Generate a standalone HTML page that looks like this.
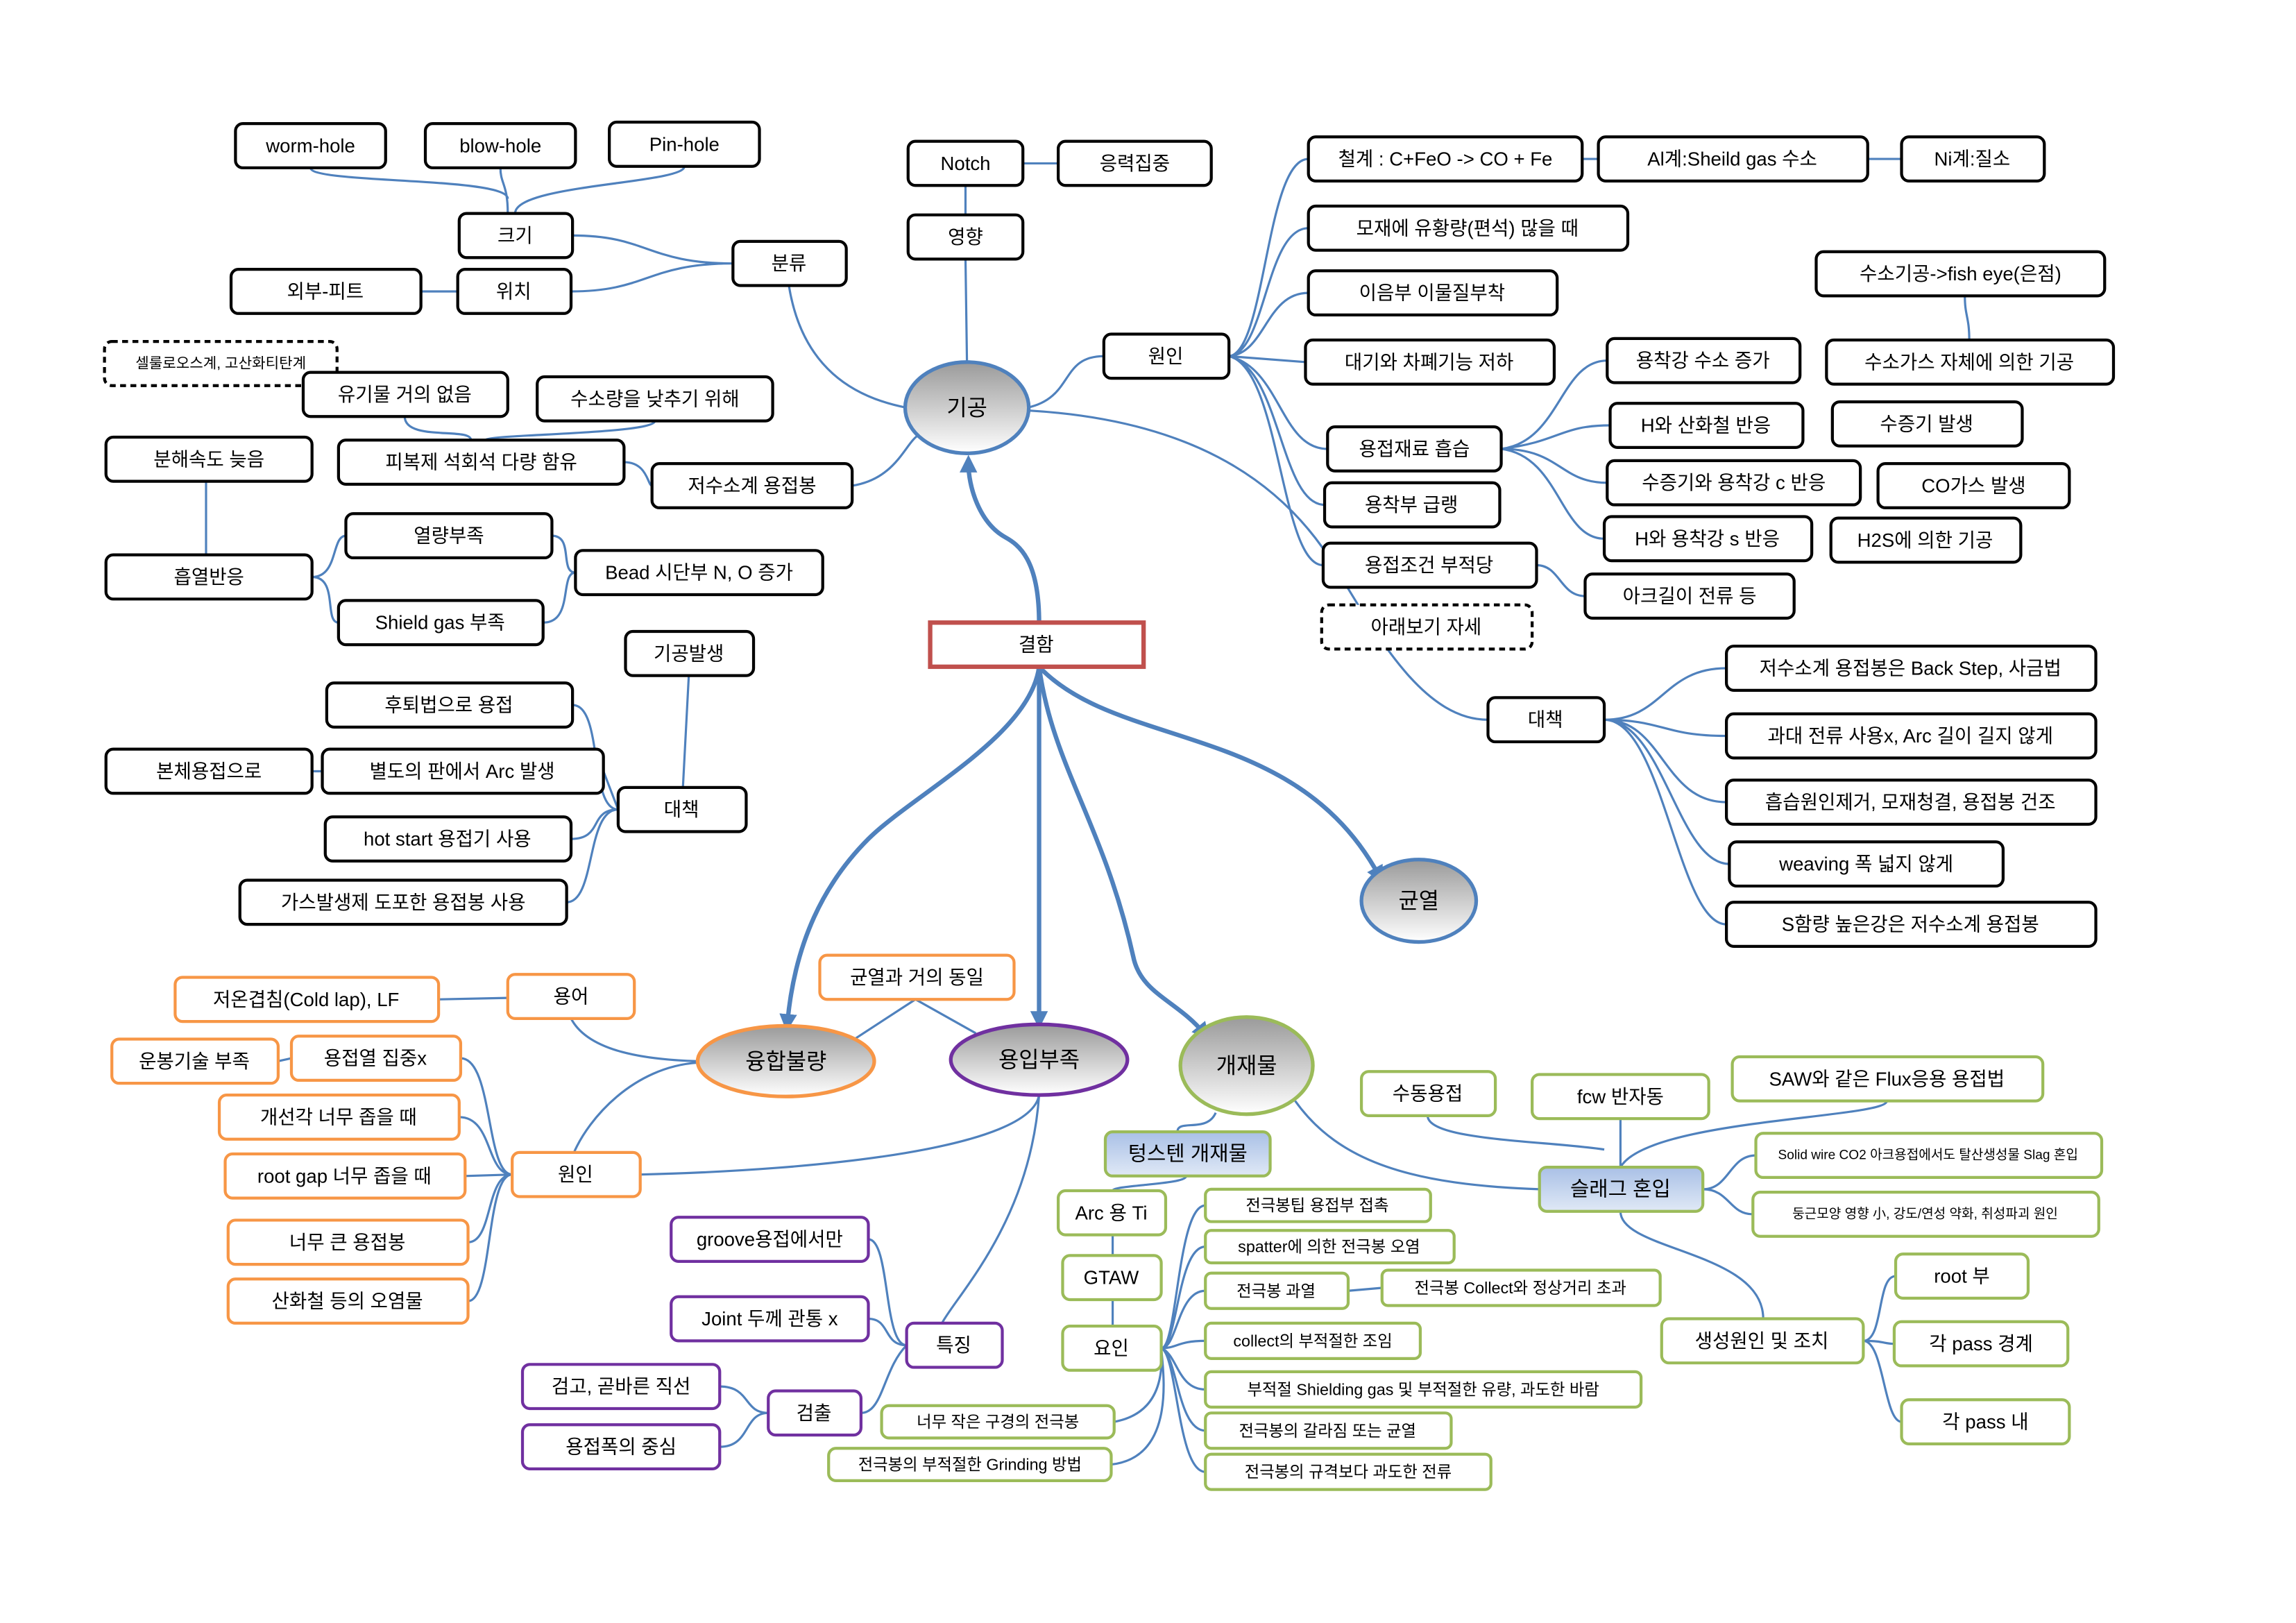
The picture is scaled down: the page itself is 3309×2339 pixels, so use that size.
<!DOCTYPE html>
<html><head><meta charset="utf-8"><style>
html,body{margin:0;padding:0;background:#fff}
svg{display:block}
text{font-family:"Liberation Sans","Noto Sans CJK KR",sans-serif;font-size:13px;fill:#000;text-anchor:middle;dominant-baseline:central}
.k{fill:#fff;stroke:#000;stroke-width:2}
.o{fill:#fff;stroke:#f79646;stroke-width:2}
.p{fill:#fff;stroke:#7030a0;stroke-width:2}
.g{fill:#fff;stroke:#9bbb59;stroke-width:2}
.l{fill:none;stroke:#4f81bd;stroke-width:1.5}
.m{fill:none;stroke:#4f81bd;stroke-width:3}
.d{stroke-dasharray:4 3}
</style></head><body>
<svg width="3309" height="2339" viewBox="0 0 1560 1102.7" xmlns="http://www.w3.org/2000/svg">
<defs>
<linearGradient id="gr" x1="0" y1="0" x2="0" y2="1"><stop offset="0" stop-color="#9a9a9a"/><stop offset="1" stop-color="#fff"/></linearGradient>
<linearGradient id="bl" x1="0" y1="0" x2="0" y2="1"><stop offset="0" stop-color="#a9c0e6"/><stop offset="1" stop-color="#e0e9f6"/></linearGradient>
<marker id="ar" markerWidth="4" markerHeight="4" refX="2" refY="2" orient="auto"><path d="M0,0 L4,2 L0,4 z" fill="#4f81bd"/></marker>
</defs>

<g class="l">
<path d="M211,114 C211,125 345,120 345,135 M340,114 C340,125 345,125 345,145 M465,113 C465,125 350,125 350,145"/>
<path d="M389,160 C440,160 440,179 498,179 M388,198 C440,198 440,179 498,179 M286,198 L311,198"/>
<path d="M536,194 C545,250 580,270 616,277"/>
<path d="M275,283 C275,300 320,290 320,299 M445,286 C445,295 330,295 330,299 M424,314 C440,314 440,330 443,330"/>
<path d="M579,330 C610,325 615,300 625,295"/>
<path d="M140,327 L140,377 M212,392 C230,392 225,364 235,364 M212,392 C230,392 220,423 230,423"/>
<path d="M375,364 C390,364 380,389 391,389 M369,423 C390,423 380,389 391,389"/>
<path d="M468,459 L464,535 M389,479 C410,479 400,550 420,550 M410,524 L420,550 M212,524 L219,524 M388,570 C410,570 400,550 420,550 M385,613 C405,613 398,550 420,550"/>
<path d="M656,126 L656,146 M656,176 L657,246 M695,111 L719,111"/>
<path d="M698,277 C730,270 720,242 750,242"/>
<path d="M700,279 C800,285 870,320 910,390 C940,440 970,489 1011,489"/>
<path d="M835,242 C860,240 860,108 889,108 M835,242 C860,240 860,155 889,155 M835,242 C860,240 860,199 889,199 M835,242 L887,246 M835,242 C870,250 870,305 902,305 M835,242 C870,250 870,343 900,343 M835,242 C870,250 870,384 899,384"/>
<path d="M1075,108 L1086,108 M1269,108 L1292,108 M1335,201 C1335,215 1338,215 1338,231"/>
<path d="M1020,305 C1060,300 1060,245 1092,245 M1020,305 C1060,300 1060,289 1094,289 M1020,305 C1060,305 1060,328 1092,328 M1020,305 C1060,310 1060,366 1090,366 M1044,384 C1060,384 1060,405 1077,405"/>
<path d="M1090,489 C1130,489 1130,454 1173,454 M1090,489 C1130,489 1130,500 1173,500 M1090,489 C1130,489 1130,545 1173,545 M1090,489 C1130,489 1140,587 1175,587 M1090,489 C1130,489 1140,628 1173,628"/>
<path d="M298,679 L345,678 M388,692 C400,715 440,720 474,721 M189,721 L198,719"/>
<path d="M579,707 L622,679 L663,702"/>
<path d="M313,719 C335,719 330,798 348,798 M312,759 C335,759 330,798 348,798 M316,799 L348,798 M318,844 C335,844 330,798 348,798 M318,884 C335,884 330,798 348,798"/>
<path d="M390,783 C400,760 430,725 474,722 M435,798 C560,795 700,780 706,744"/>
<path d="M590,842 C605,842 600,914 616,914 M590,896 C605,896 600,914 616,914 M489,942 C510,942 505,960 522,960 M489,983 C510,983 505,960 522,960 M585,960 C600,960 600,930 616,914"/>
<path d="M706,744 C700,830 650,880 640,899"/>
<path d="M826,756 C820,770 800,760 800,769 M806,799 C806,805 756,805 756,809 M756,839 L756,853 M756,883 L756,901"/>
<path d="M789,916 C800,916 800,819 819,819 M789,916 C800,916 800,847 819,847 M789,916 C800,916 800,877 819,877 M789,916 C800,916 800,911 819,911 M789,916 C800,920 800,944 819,944 M789,916 C800,920 800,972 819,972 M789,916 C800,920 800,1000 819,1000 M757,966 C790,960 790,930 789,916 M755,995 C800,990 790,930 789,916 M916,877 L939,875"/>
<path d="M880,748 C910,790 960,805 1046,808 M970,758 C970,775 1050,775 1090,781 M1101,760 L1101,793 M1282,748 C1282,760 1120,760 1101,793"/>
<path d="M1157,808 C1175,808 1175,785 1193,785 M1157,808 C1175,808 1175,825 1191,825 M1101,823 C1101,850 1198,850 1198,896"/>
<path d="M1266,911 C1280,911 1275,867 1288,867 M1266,911 C1280,911 1280,913 1287,913 M1266,911 C1280,911 1280,966 1292,966"/>
</g>
<g class="m">
<path d="M706,423 C706,380 692,370 683,365 C665,355 658,330 658,315" marker-end="url(#ar)"/>
<path d="M706,453 C700,500 620,540 590,570 C560,600 540,640 535,695" marker-end="url(#ar)"/>
<path d="M706,453 L706,693" marker-end="url(#ar)"/>
<path d="M706,453 C715,520 750,560 770,650 C775,675 800,680 818,702" marker-end="url(#ar)"/>
<path d="M706,453 C760,510 880,490 937,595" marker-end="url(#ar)"/>
</g>

<g>
<rect class="k" x="160" y="84" width="102" height="30" rx="5"/><text x="211" y="99">worm-hole</text>
<rect class="k" x="289" y="84" width="102" height="30" rx="5"/><text x="340" y="99">blow-hole</text>
<rect class="k" x="414" y="83" width="102" height="30" rx="5"/><text x="465" y="98">Pin-hole</text>
<rect class="k" x="312" y="145" width="77" height="30" rx="5"/><text x="350" y="160">크기</text>
<rect class="k" x="311" y="183" width="77" height="30" rx="5"/><text x="349" y="198">위치</text>
<rect class="k" x="157" y="183" width="129" height="30" rx="5"/><text x="221" y="198">외부-피트</text>
<rect class="k" x="498" y="164" width="77" height="30" rx="5"/><text x="536" y="179">분류</text>
<rect class="k d" x="71" y="232" width="158" height="30" rx="5"/><text x="150" y="247" style="font-size:10px">셀룰로오스계, 고산화티탄계</text>
<rect class="k" x="206" y="253" width="139" height="30" rx="5"/><text x="275" y="268">유기물 거의 없음</text>
<rect class="k" x="365" y="256" width="160" height="30" rx="5"/><text x="445" y="271">수소량을 낮추기 위해</text>
<rect class="k" x="72" y="297" width="140" height="30" rx="5"/><text x="142" y="312">분해속도 늦음</text>
<rect class="k" x="230" y="299" width="194" height="30" rx="5"/><text x="327" y="314">피복제 석회석 다량 함유</text>
<rect class="k" x="443" y="315" width="136" height="30" rx="5"/><text x="511" y="330">저수소계 용접봉</text>
<rect class="k" x="72" y="377" width="140" height="30" rx="5"/><text x="142" y="392">흡열반응</text>
<rect class="k" x="235" y="349" width="140" height="30" rx="5"/><text x="305" y="364">열량부족</text>
<rect class="k" x="230" y="408" width="139" height="30" rx="5"/><text x="299" y="423">Shield gas 부족</text>
<rect class="k" x="391" y="374" width="168" height="30" rx="5"/><text x="475" y="389">Bead 시단부 N, O 증가</text>
<rect class="k" x="425" y="429" width="87" height="30" rx="5"/><text x="468" y="444">기공발생</text>
<rect class="k" x="222" y="464" width="167" height="30" rx="5"/><text x="305" y="479">후퇴법으로 용접</text>
<rect class="k" x="72" y="509" width="140" height="30" rx="5"/><text x="142" y="524">본체용접으로</text>
<rect class="k" x="219" y="509" width="191" height="30" rx="5"/><text x="314" y="524">별도의 판에서 Arc 발생</text>
<rect class="k" x="420" y="535" width="87" height="30" rx="5"/><text x="463" y="550">대책</text>
<rect class="k" x="221" y="555" width="167" height="30" rx="5"/><text x="304" y="570">hot start 용접기 사용</text>
<rect class="k" x="163" y="598" width="222" height="30" rx="5"/><text x="274" y="613">가스발생제 도포한 용접봉 사용</text>
<rect class="k" x="617" y="96" width="78" height="30" rx="5"/><text x="656" y="111">Notch</text>
<rect class="k" x="719" y="96" width="104" height="30" rx="5"/><text x="771" y="111">응력집중</text>
<rect class="k" x="617" y="146" width="78" height="30" rx="5"/><text x="656" y="161">영향</text>
<rect class="k" x="750" y="227" width="85" height="30" rx="5"/><text x="792" y="242">원인</text>
<rect class="k" x="889" y="93" width="186" height="30" rx="5"/><text x="982" y="108">철계 : C+FeO -&gt; CO + Fe</text>
<rect class="k" x="1086" y="93" width="183" height="30" rx="5"/><text x="1177" y="108">Al계:Sheild  gas 수소</text>
<rect class="k" x="1292" y="93" width="97" height="30" rx="5"/><text x="1340" y="108">Ni계:질소</text>
<rect class="k" x="889" y="140" width="217" height="30" rx="5"/><text x="997" y="155">모재에 유황량(편석) 많을 때</text>
<rect class="k" x="889" y="184" width="169" height="30" rx="5"/><text x="973" y="199">이음부 이물질부착</text>
<rect class="k" x="887" y="231" width="169" height="30" rx="5"/><text x="971" y="246">대기와 차폐기능 저하</text>
<rect class="k" x="1092" y="230" width="131" height="30" rx="5"/><text x="1157" y="245">용착강 수소 증가</text>
<rect class="k" x="1234" y="171" width="196" height="30" rx="5"/><text x="1332" y="186">수소기공-&gt;fish eye(은점)</text>
<rect class="k" x="1241" y="231" width="195" height="30" rx="5"/><text x="1338" y="246">수소가스 자체에 의한 기공</text>
<rect class="k" x="902" y="290" width="118" height="30" rx="5"/><text x="961" y="305">용접재료 흡습</text>
<rect class="k" x="1094" y="274" width="131" height="30" rx="5"/><text x="1159" y="289">H와 산화철 반응</text>
<rect class="k" x="1245" y="273" width="129" height="30" rx="5"/><text x="1309" y="288">수증기 발생</text>
<rect class="k" x="1092" y="313" width="172" height="30" rx="5"/><text x="1178" y="328">수증기와 용착강 c 반응</text>
<rect class="k" x="1276" y="315" width="130" height="30" rx="5"/><text x="1341" y="330">CO가스 발생</text>
<rect class="k" x="900" y="328" width="119" height="30" rx="5"/><text x="959" y="343">용착부 급랭</text>
<rect class="k" x="1090" y="351" width="141" height="30" rx="5"/><text x="1160" y="366">H와 용착강 s 반응</text>
<rect class="k" x="1244" y="352" width="129" height="30" rx="5"/><text x="1308" y="367">H2S에 의한 기공</text>
<rect class="k" x="899" y="369" width="145" height="30" rx="5"/><text x="971" y="384">용접조건 부적당</text>
<rect class="k" x="1077" y="390" width="142" height="30" rx="5"/><text x="1148" y="405">아크길이 전류 등</text>
<rect class="k d" x="898" y="411" width="143" height="30" rx="5"/><text x="969" y="426">아래보기 자세</text>
<rect class="k" x="1011" y="474" width="79" height="30" rx="5"/><text x="1050" y="489">대책</text>
<rect class="k" x="1173" y="439" width="251" height="30" rx="5"/><text x="1298" y="454">저수소계 용접봉은 Back Step, 사금법</text>
<rect class="k" x="1173" y="485" width="251" height="30" rx="5"/><text x="1298" y="500">과대 전류 사용x, Arc 길이 길지 않게</text>
<rect class="k" x="1173" y="530" width="251" height="30" rx="5"/><text x="1298" y="545">흡습원인제거, 모재청결, 용접봉 건조</text>
<rect class="k" x="1175" y="572" width="186" height="30" rx="5"/><text x="1268" y="587">weaving 폭 넓지 않게</text>
<rect class="k" x="1173" y="613" width="251" height="30" rx="5"/><text x="1298" y="628">S함량 높은강은 저수소계 용접봉</text>
</g>

<rect x="632" y="423" width="145" height="30" fill="#fff" stroke="#c0504d" stroke-width="3"/><text x="704" y="438">결함</text>
<ellipse cx="657" cy="277" rx="42" ry="31" fill="url(#gr)" stroke="#4f81bd" stroke-width="2.5"/><text x="657" y="277" style="font-size:15px">기공</text>
<ellipse cx="964" cy="612" rx="39" ry="28" fill="url(#gr)" stroke="#4f81bd" stroke-width="2.5"/><text x="964" y="612" style="font-size:15px">균열</text>
<ellipse cx="534" cy="721" rx="60" ry="24" fill="url(#gr)" stroke="#f79646" stroke-width="2.5"/><text x="534" y="721" style="font-size:15px">융합불량</text>
<ellipse cx="706" cy="720" rx="60" ry="24" fill="url(#gr)" stroke="#7030a0" stroke-width="2.5"/><text x="706" y="720" style="font-size:15px">용입부족</text>
<ellipse cx="847" cy="724" rx="45" ry="33" fill="url(#gr)" stroke="#9bbb59" stroke-width="2.5"/><text x="847" y="724" style="font-size:15px">개재물</text>

<rect class="o" x="557" y="649" width="132" height="30" rx="5"/><text x="623" y="664">균열과 거의 동일</text>
<rect class="o" x="119" y="664" width="179" height="30" rx="5"/><text x="208" y="679">저온겹침(Cold lap), LF</text>
<rect class="o" x="345" y="662" width="86" height="30" rx="5"/><text x="388" y="677">용어</text>
<rect class="o" x="76" y="706" width="113" height="30" rx="5"/><text x="132" y="721">운봉기술 부족</text>
<rect class="o" x="198" y="704" width="115" height="30" rx="5"/><text x="255" y="719">용접열 집중x</text>
<rect class="o" x="149" y="744" width="163" height="30" rx="5"/><text x="230" y="759">개선각 너무 좁을 때</text>
<rect class="o" x="153" y="784" width="163" height="30" rx="5"/><text x="234" y="799">root gap 너무 좁을 때</text>
<rect class="o" x="348" y="783" width="87" height="30" rx="5"/><text x="391" y="798">원인</text>
<rect class="o" x="155" y="829" width="163" height="30" rx="5"/><text x="236" y="844">너무 큰 용접봉</text>
<rect class="o" x="155" y="869" width="163" height="30" rx="5"/><text x="236" y="884">산화철 등의 오염물</text>

<rect class="p" x="456" y="827" width="134" height="30" rx="5"/><text x="523" y="842">groove용접에서만</text>
<rect class="p" x="456" y="881" width="134" height="30" rx="5"/><text x="523" y="896">Joint 두께 관통 x</text>
<rect class="p" x="616" y="899" width="65" height="30" rx="5"/><text x="648" y="914">특징</text>
<rect class="p" x="355" y="927" width="134" height="30" rx="5"/><text x="422" y="942">검고, 곧바른 직선</text>
<rect class="p" x="522" y="945" width="63" height="30" rx="5"/><text x="553" y="960">검출</text>
<rect class="p" x="355" y="968" width="134" height="30" rx="5"/><text x="422" y="983">용접폭의 중심</text>

<g style="font-size:12px">
<rect class="g" x="599" y="955" width="158" height="22" rx="5"/><text x="678" y="966" style="font-size:11px">너무 작은 구경의 전극봉</text>
<rect class="g" x="563" y="984" width="192" height="22" rx="5"/><text x="659" y="995" style="font-size:11px">전극봉의 부적절한 Grinding 방법</text>
<rect x="751" y="769" width="112" height="30" rx="5" fill="url(#bl)" stroke="#9bbb59" stroke-width="2"/><text x="807" y="784" style="font-size:14px">텅스텐 개재물</text>
<rect class="g" x="719" y="809" width="73" height="30" rx="5"/><text x="755" y="824">Arc 용 Ti</text>
<rect class="g" x="722" y="853" width="67" height="30" rx="5"/><text x="755" y="868">GTAW</text>
<rect class="g" x="722" y="901" width="67" height="30" rx="5"/><text x="755" y="916">요인</text>
<rect class="g" x="819" y="808" width="153" height="22" rx="4"/><text x="895" y="819" style="font-size:11px">전극봉팁 용접부 접촉</text>
<rect class="g" x="819" y="836" width="169" height="22" rx="4"/><text x="903" y="847" style="font-size:11px">spatter에 의한 전극봉 오염</text>
<rect class="g" x="819" y="865" width="97" height="24" rx="4"/><text x="867" y="877" style="font-size:11px">전극봉 과열</text>
<rect class="g" x="939" y="863" width="189" height="24" rx="4"/><text x="1033" y="875" style="font-size:11px">전극봉 Collect와 정상거리 초과</text>
<rect class="g" x="819" y="899" width="146" height="24" rx="4"/><text x="892" y="911" style="font-size:11px">collect의 부적절한 조임</text>
<rect class="g" x="819" y="932" width="296" height="24" rx="4"/><text x="967" y="944" style="font-size:11px">부적절 Shielding gas 및 부적절한 유량, 과도한 바람</text>
<rect class="g" x="819" y="960" width="167" height="24" rx="4"/><text x="902" y="972" style="font-size:11px">전극봉의 갈라짐 또는 균열</text>
<rect class="g" x="819" y="988" width="194" height="24" rx="4"/><text x="916" y="1000" style="font-size:11px">전극봉의 규격보다 과도한 전류</text>
<rect class="g" x="925" y="728" width="91" height="30" rx="5"/><text x="970" y="743" style="font-size:13px">수동용접</text>
<rect class="g" x="1041" y="730" width="120" height="30" rx="5"/><text x="1101" y="745" style="font-size:13px">fcw 반자동</text>
<rect class="g" x="1177" y="718" width="211" height="30" rx="5"/><text x="1282" y="733" style="font-size:13px">SAW와 같은 Flux응용 용접법</text>
<rect x="1046" y="793" width="111" height="30" rx="5" fill="url(#bl)" stroke="#9bbb59" stroke-width="2"/><text x="1101" y="808" style="font-size:14px">슬래그 혼입</text>
<rect class="g" x="1193" y="770" width="235" height="30" rx="5"/><text x="1310" y="785" style="font-size:9px">Solid wire CO2 아크용접에서도 탈산생성물 Slag 혼입</text>
<rect class="g" x="1191" y="810" width="235" height="30" rx="5"/><text x="1308" y="825" style="font-size:9px">둥근모양 영향 小, 강도/연성 약화, 취성파괴 원인</text>
<rect class="g" x="1129" y="896" width="137" height="30" rx="5"/><text x="1197" y="911" style="font-size:13px">생성원인 및 조치</text>
<rect class="g" x="1288" y="852" width="90" height="30" rx="5"/><text x="1333" y="867" style="font-size:13px">root 부</text>
<rect class="g" x="1287" y="898" width="118" height="30" rx="5"/><text x="1346" y="913" style="font-size:13px">각 pass 경계</text>
<rect class="g" x="1292" y="951" width="114" height="30" rx="5"/><text x="1349" y="966" style="font-size:13px">각 pass 내</text>
</g>
</svg>
</body></html>
